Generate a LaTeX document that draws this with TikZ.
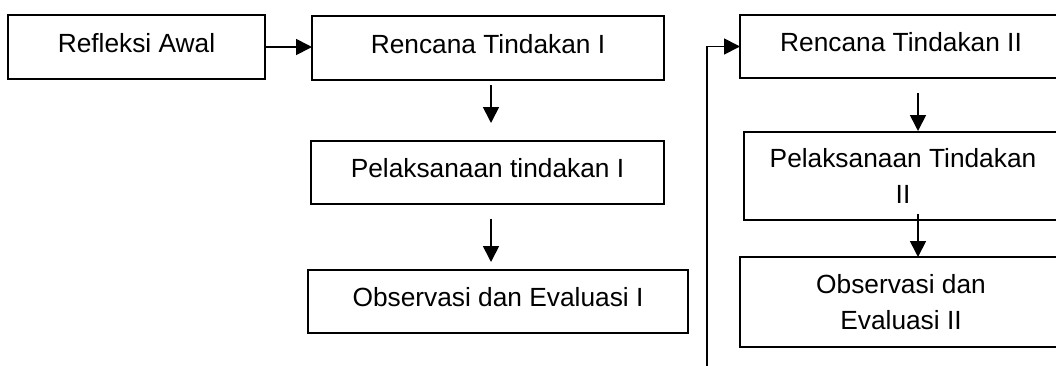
\documentclass[tikz,border=0pt]{standalone}
\usepackage{fontspec}
\setmainfont{Liberation Sans}
\usetikzlibrary{arrows.meta}
\begin{document}
\begin{tikzpicture}[x=1pt,y=-1pt,
  box/.style={draw=black, line width=1.7pt, rectangle, inner sep=0pt, outer sep=0pt,
    font=\fontsize{26.3}{36}\selectfont, align=center},
  onel/.style={text height=19pt, text depth=9pt},
  arr/.style={line width=1.7pt, -{Triangle[length=16pt,width=16pt]}},
  ln/.style={line width=1.7pt}]
\useasboundingbox (0,0) rectangle (1056,365);
\clip (0,0) rectangle (1056,365);
\node[box,onel,minimum width=257pt,minimum height=64pt] (RA) at (136.5,47) {Refleksi Awal};
\node[box,onel,minimum width=352pt,minimum height=64pt] (RT1) at (488,48) {Rencana Tindakan I};
\node[box,onel,minimum width=353pt,minimum height=63pt] (PT1) at (487.5,172.5) {Pelaksanaan tindakan I};
\node[box,onel,minimum width=380pt,minimum height=63pt] (OE1) at (498,301.5) {Observasi dan Evaluasi I};
\node[box,onel,minimum width=322pt,minimum height=63pt] (RT2) at (901,46.5) {Rencana Tindakan II};
\node[box,minimum width=318pt,minimum height=88pt] (PT2) at (903,176) {Pelaksanaan Tindakan\\II};
\node[box,minimum width=322pt,minimum height=90pt] (OE2) at (901,302) {Observasi dan\\Evaluasi II};
\coordinate (a1s) at (491,85);
\coordinate (a1e) at (491,123);
\coordinate (a2s) at (491,219);
\coordinate (a2e) at (491,262);
\coordinate (a3s) at (918,93);
\coordinate (a3e) at (918,131);
\coordinate (a4s) at (918,214);
\coordinate (a4e) at (918,257);
\coordinate (loop) at (707,370);
\draw[arr] (RA.east) -- (RT1.west |- RA.east);
\draw[arr] (a1s) -- (a1e);
\draw[arr] (a2s) -- (a2e);
\draw[arr] (a3s) -- (a3e);
\draw[arr] (a4s) -- (a4e);
\draw[arr] (loop) |- (RT2.west);
\end{tikzpicture}
\end{document}
